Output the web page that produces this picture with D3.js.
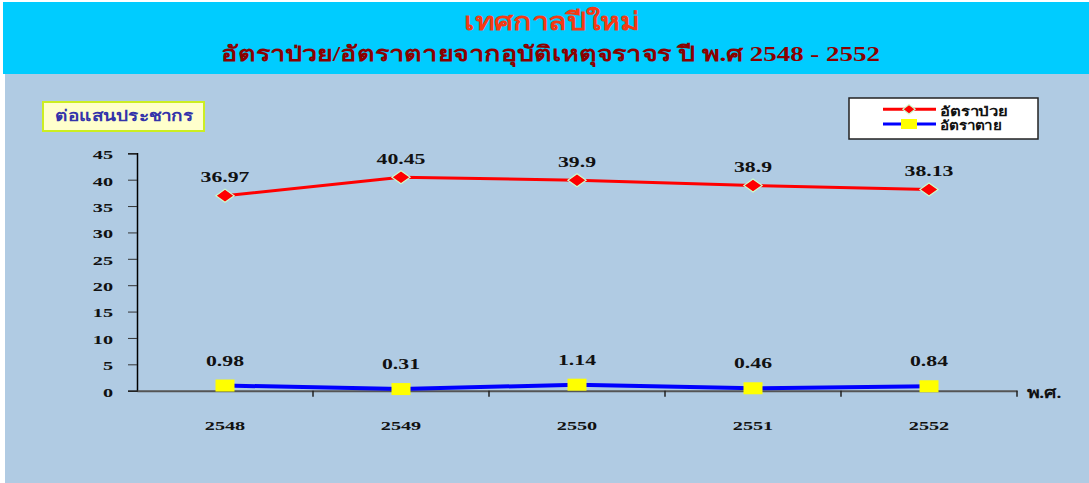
<!DOCTYPE html>
<html><head><meta charset="utf-8">
<script src="https://cdn.jsdelivr.net/npm/d3@7"></script>
<style>
html,body{margin:0;padding:0;background:#fff;}
svg{display:block;}
text{font-family:"Liberation Serif","Times New Roman",serif;font-weight:bold;}
</style></head>
<body><svg id="c" width="1089" height="483"></svg>
<script>
const years = ["2548","2549","2550","2551","2552"];
const sickRate = [36.97, 40.45, 39.9, 38.9, 38.13];
const deathRate = [0.98, 0.31, 1.14, 0.46, 0.84];
const yTicks = [0,5,10,15,20,25,30,35,40,45];
const seriesNames = ["อัตราป่วย","อัตราตาย"];
const title = "เทศกาลปีใหม่";
const subtitle = "อัตราป่วย/อัตราตายจากอุบัติเหตุจราจร ปี พ.ศ 2548 - 2552";
const yLabel = "ต่อแสนประชากร";
const xLabel = "พ.ศ.";

const svg = d3.select("#c");
svg.append("rect").attr("x",5).attr("y",2).attr("width",1084).attr("height",481).attr("fill","#B0CBE3");
svg.append("rect").attr("x",3).attr("y",2).attr("width",1086).attr("height",72).attr("fill","#00CCFF");
svg.append("text").attr("x",464).attr("y",30).attr("font-size",25).attr("fill","#F43A14")
  .attr("textLength",175).attr("lengthAdjust","spacingAndGlyphs").text(title);
svg.append("text").attr("x",221).attr("y",61).attr("font-size",21).attr("fill","#8B0000")
  .attr("textLength",659).attr("lengthAdjust","spacingAndGlyphs").text(subtitle);

const x = d3.scaleBand().domain(years).range([137,1017]);
const y = d3.scaleLinear().domain([0,45]).range([390.7,153.3]);

// y axis
const ya = svg.append("g").attr("transform","translate(137,0)")
  .call(d3.axisLeft(y).tickValues(yTicks).tickSize(9));
ya.select(".domain").attr("stroke","#000").attr("stroke-width",1.5);
ya.selectAll(".tick line").attr("stroke","#333");
ya.selectAll(".tick text").attr("x",0).attr("dy","0.4em")
  .attr("transform","translate(-24,0) scale(1.5,1)")
  .attr("font-size",13.5).attr("fill","#111").attr("font-family","'Liberation Serif',serif").attr("font-weight","bold");

// x axis
const xa = svg.append("g").attr("transform",`translate(0,${y(0)})`)
  .call(d3.axisBottom(x).tickSize(0));
xa.select(".domain").attr("stroke","#555").attr("stroke-width",2);
xa.selectAll(".tick text").attr("y",0).attr("dy",0)
  .attr("transform","translate(0,39) scale(1.5,1)")
  .attr("font-size",13.5).attr("fill","#111").attr("font-family","'Liberation Serif',serif").attr("font-weight","bold");
const bounds = years.map(d=>x(d)).concat([x.range()[1]]);
svg.append("g").selectAll("line").data(bounds.slice(1)).join("line")
  .attr("x1",d=>d).attr("x2",d=>d).attr("y1",y(0)).attr("y2",y(0)+6).attr("stroke","#222").attr("stroke-width",1.5);
svg.append("text").attr("transform",`translate(1027,${y(0)+7}) scale(1.3,1)`).attr("font-size",15).attr("fill","#111").text(xLabel);

const cx = d => x(d)+x.bandwidth()/2;
const line = d3.line().x((d,i)=>cx(years[i])).y(d=>y(d));

// red series
svg.append("path").datum(sickRate).attr("d",line).attr("fill","none").attr("stroke","#FF0000").attr("stroke-width",3);
svg.append("g").selectAll("path").data(sickRate).join("path")
  .attr("d",d3.symbol(d3.symbolSquare,85))
  .attr("transform",(d,i)=>`translate(${cx(years[i])},${y(d)}) scale(1.4,1) rotate(45)`)
  .attr("fill","#FF0000").attr("stroke","#CCFFCC").attr("stroke-width",1);
svg.append("g").selectAll("text").data(sickRate).join("text")
  .attr("transform",(d,i)=>`translate(${cx(years[i])},${y(d)-13.5}) scale(1.45,1)`).attr("text-anchor","middle")
  .attr("font-size",15).attr("fill","#111").text(d=>d);

// blue series
svg.append("path").datum(deathRate).attr("d",line).attr("fill","none").attr("stroke","#0000FF").attr("stroke-width",4);
svg.append("g").selectAll("rect").data(deathRate).join("rect")
  .attr("x",(d,i)=>cx(years[i])-9.5).attr("y",d=>y(d)-6).attr("width",19).attr("height",12)
  .attr("fill","#FFFF00");
svg.append("g").selectAll("text").data(deathRate).join("text")
  .attr("transform",(d,i)=>`translate(${cx(years[i])},${y(d)-20}) scale(1.45,1)`).attr("text-anchor","middle")
  .attr("font-size",15).attr("fill","#111").text(d=>d);

// y label box
svg.append("rect").attr("x",43).attr("y",102).attr("width",161).attr("height",29).attr("fill","#FFFFCC").attr("stroke","#CCEE22").attr("stroke-width",2);
svg.append("text").attr("x",55).attr("y",121).attr("font-size",15).attr("fill","#3333AA")
  .attr("textLength",138).attr("lengthAdjust","spacingAndGlyphs").text(yLabel);

// legend
const lg = svg.append("g");
lg.append("rect").attr("x",849).attr("y",98).attr("width",189).attr("height",41).attr("fill","#fff").attr("stroke","#222").attr("stroke-width",1.5);
lg.append("line").attr("x1",883).attr("x2",936).attr("y1",109.3).attr("y2",109.3).attr("stroke","#FF0000").attr("stroke-width",3);
lg.append("path").attr("d",d3.symbol(d3.symbolSquare,45)).attr("transform","translate(909,109.3) scale(1.3,1) rotate(45)").attr("fill","#FF0000").attr("stroke","#CCFFCC");
lg.append("line").attr("x1",883).attr("x2",936).attr("y1",124).attr("y2",124).attr("stroke","#0000FF").attr("stroke-width",3);
lg.append("rect").attr("x",901).attr("y",119).attr("width",16).attr("height",10).attr("fill","#FFFF00");
lg.selectAll("text.l").data(seriesNames).join("text").attr("class","l")
  .attr("x",940).attr("y",(d,i)=>116+i*14).attr("font-size",13).attr("fill","#111")
  .attr("textLength",(d,i)=>i===0?68:62).attr("lengthAdjust","spacingAndGlyphs").text(d=>d);
</script></body></html>
